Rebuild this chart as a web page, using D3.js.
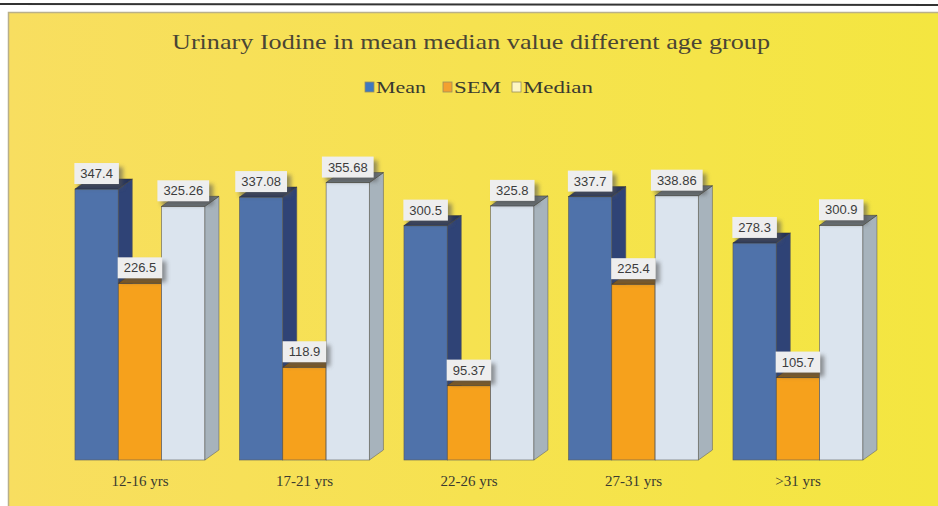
<!DOCTYPE html>
<html>
<head>
<meta charset="utf-8">
<script src="https://cdn.jsdelivr.net/npm/d3@7"></script>
<style>
  html, body { margin: 0; padding: 0; background: #fff; }
  svg { display: block; }
</style>
</head>
<body>
<div id="chart"></div>
<script>
// datos
const grupos = ["12-16 yrs", "17-21 yrs", "22-26 yrs", "27-31 yrs", ">31 yrs"];
const series = ["Mean", "SEM", "Median"];
const mean = [347.4, 337.08, 300.5, 337.7, 278.3];
const sem = [226.5, 118.9, 95.37, 225.4, 105.7];
const median = [325.26, 355.68, 325.8, 338.86, 300.9];
const etiquetas = [["347.4", "226.5", "325.26"], ["337.08", "118.9", "355.68"], ["300.5", "95.37", "325.8"], ["337.7", "225.4", "338.86"], ["278.3", "105.7", "300.9"]];

const width = 938, height = 506;
const depthX = 14, depthY = -10;
const serif = "'Liberation Serif', 'DejaVu Serif', serif";

const colores = {
  Mean:   { front: "#4f72aa", side: "#2f4376", top: "#26345c", legend: "#3f78c0" },
  SEM:    { front: "#f6a11c", side: "#c67a0e", top: "#8c5a10", legend: "#f3a030" },
  Median: { front: "#dbe4ee", side: "#a7b3bc", top: "#6d767c", legend: "#fdf6c4" }
};

const svg = d3.select("#chart").append("svg")
  .attr("width", width)
  .attr("height", height);

const defs = svg.append("defs");
const grad = defs.append("linearGradient").attr("id", "fondo").attr("x1", "0").attr("x2", "1");
grad.append("stop").attr("offset", "0").attr("stop-color", "#f8de60");
grad.append("stop").attr("offset", "1").attr("stop-color", "#f4e640");
defs.append("filter").attr("id", "sombra").attr("x", "-30%").attr("y", "-30%").attr("width", "160%").attr("height", "160%")
  .append("feGaussianBlur").attr("stdDeviation", 2.2);

// marco escaneado
svg.append("rect").attr("x", 0).attr("y", 0).attr("width", width).attr("height", height).attr("fill", "#fff");
svg.append("line").attr("x1", 0).attr("x2", width).attr("y1", 4).attr("y2", 5)
  .attr("stroke", "#333").attr("stroke-width", 2);
svg.append("rect").attr("x", 8).attr("y", 12).attr("width", width - 8).attr("height", height - 12)
  .attr("fill", "url(#fondo)");
svg.append("path").attr("d", `M8.5,${height} L8.5,12.5 L${width},12.5`)
  .attr("fill", "none").attr("stroke", "#b9b08a").attr("stroke-width", 1.5);

// titulo
svg.append("text")
  .attr("x", 172).attr("y", 49)
  .attr("textLength", 598)
  .attr("lengthAdjust", "spacingAndGlyphs")
  .style("font-family", serif)
  .style("font-size", "22px")
  .attr("fill", "#4a4534")
  .text("Urinary Iodine in mean median value different  age group");

// leyenda
const legX = [365, 443, 512];
const legW = [50, 47, 70];
series.forEach((s, i) => {
  const g = svg.append("g").attr("transform", `translate(${legX[i]},93)`);
  g.append("rect").attr("x", 0).attr("y", -11).attr("width", 9).attr("height", 10)
    .attr("fill", colores[s].legend).attr("stroke", "#9a8f60").attr("stroke-width", 0.8);
  g.append("text").attr("x", 11).attr("y", 0)
    .attr("textLength", legW[i])
    .attr("lengthAdjust", "spacingAndGlyphs")
    .style("font-family", serif)
    .style("font-size", "17px")
    .attr("fill", "#3a3a30")
    .text(s);
});

// escalas
const x = d3.scaleBand()
  .domain(grupos)
  .range([57.7, 880.2])
  .paddingInner(0.21)
  .paddingOuter(0.105);

const xs = d3.scaleBand()
  .domain(series)
  .range([0, x.bandwidth()])
  .padding(0);

const y = d3.scaleLinear()
  .domain([0, 400])
  .range([460, 148]);

const valores = { Mean: mean, SEM: sem, Median: median };

const barras = svg.append("g");
grupos.forEach((grp, gi) => {
  const g = barras.append("g").attr("transform", `translate(${x(grp)},0)`);
  series.forEach(s => {
    const v = valores[s][gi];
    const x0 = xs(s), w = xs.bandwidth();
    const y0 = y(v), yb = y(0);
    const c = colores[s];
    // cara frontal
    g.append("rect")
      .attr("x", x0).attr("y", y0)
      .attr("width", w).attr("height", yb - y0)
      .attr("fill", c.front)
      .attr("stroke", "#5a5a5a").attr("stroke-width", 0.6);
    // cara lateral
    g.append("path")
      .attr("d", `M${x0 + w},${y0} L${x0 + w + depthX},${y0 + depthY} L${x0 + w + depthX},${yb + depthY} L${x0 + w},${yb} Z`)
      .attr("fill", c.side)
      .attr("stroke", "#555").attr("stroke-width", 0.5);
    // cara superior
    g.append("path")
      .attr("d", `M${x0},${y0} L${x0 + depthX},${y0 + depthY} L${x0 + w + depthX},${y0 + depthY} L${x0 + w},${y0} Z`)
      .attr("fill", c.top)
      .attr("stroke", "#333").attr("stroke-width", 0.5);
  });
});

// etiquetas de datos
const etq = svg.append("g");
grupos.forEach((grp, gi) => {
  series.forEach((s, si) => {
    const v = valores[s][gi];
    const cx = x(grp) + xs(s) + xs.bandwidth() / 2;
    const bottom = y(v) - 5;
    const txt = etiquetas[gi][si];
    const t = etq.append("text")
      .attr("x", cx).attr("y", bottom - 6)
      .attr("text-anchor", "middle")
      .style("font-family", "'Liberation Sans', 'Noto Sans', sans-serif")
      .style("font-size", "13px")
      .attr("fill", "#3c3c3c")
      .text(txt);
    const bw = t.node().getComputedTextLength() + 12;
    etq.insert("rect", () => t.node())
      .attr("x", cx - bw / 2 + 4).attr("y", bottom - 21 + 4)
      .attr("width", bw).attr("height", 21)
      .attr("fill", "#555").attr("opacity", 0.6)
      .attr("filter", "url(#sombra)");
    etq.insert("rect", () => t.node())
      .attr("x", cx - bw / 2).attr("y", bottom - 21)
      .attr("width", bw).attr("height", 21)
      .attr("fill", "#eeeeee");
  });
});

// eje x (solo etiquetas)
svg.append("g")
  .attr("transform", `translate(0,${470})`)
  .call(d3.axisBottom(x).tickSize(0).tickPadding(0))
  .call(g => g.select(".domain").remove())
  .call(g => g.selectAll("text")
    .attr("dy", "16px")
    .style("font-family", serif)
    .style("font-size", "15px")
    .attr("fill", "#3a3a30"));
</script>
</body>
</html>
